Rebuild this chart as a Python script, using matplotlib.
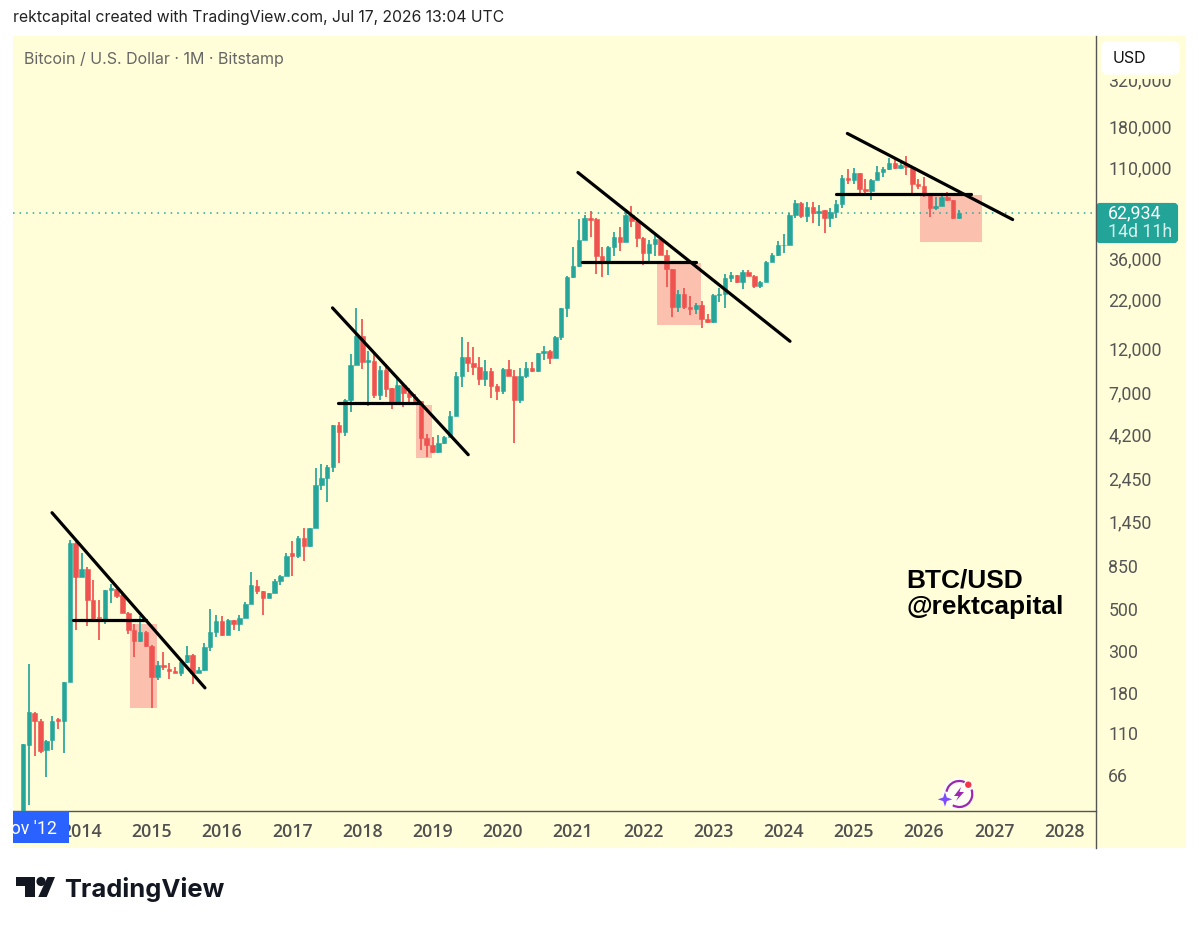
import numpy as np
import matplotlib
matplotlib.use("Agg")
import matplotlib.pyplot as plt
from matplotlib.patches import Rectangle, FancyBboxPatch, Circle, Polygon, Arc
from matplotlib.ticker import FixedLocator, FixedFormatter, NullLocator

# monthly candles, Mar 2013 .. Jul 2026
opens = [33, 95, 140, 128, 90, 101, 130, 127, 205, 1120,
         735, 810, 555, 455, 435, 628, 640, 595, 478, 387, 338, 378,
         320, 217, 253, 241, 235, 230, 262, 285, 230, 237, 315, 378,
         430, 365, 435, 414, 450, 530, 665, 622, 570, 607, 700, 750,
         985, 955, 1185, 1075, 1340, 2280, 2480, 2830, 4730, 4350, 6430, 9870,
         14000, 10200, 10350, 6840, 9200, 7400, 6200, 7700, 7000, 6620, 6300, 4020,
         3680, 3400, 3800, 4100, 5270, 8560, 10800, 10100, 9600, 8300, 9150, 7560,
         7170, 9350, 8540, 6420, 8620, 9450, 9130, 11330, 11650, 10750, 13800, 19700,
         28900, 32800, 45000, 58800, 58000, 37000, 35000, 41500, 47000, 43800, 61000, 57000,
         46300, 38500, 43200, 45500, 37700, 31800, 19900, 23300, 20050, 19400, 20500, 17150,
         16550, 23100, 23300, 28400, 29300, 27100, 30450, 29200, 25900, 27000, 34600, 37700,
         42300, 42600, 61200, 71300, 60700, 67500, 62700, 65000, 58900, 63300, 70000, 96500,
         93500, 102000, 84000, 82500, 94200, 104000, 107000, 115500, 108500, 113500, 109500, 89800,
         87500, 78000, 66500, 68500, 76500, 73400, 58900]
highs = [96, 255, 142, 130, 101, 135, 132, 205, 1165, 1140,
         995, 835, 715, 555, 630, 680, 665, 620, 485, 418, 458, 382,
         322, 265, 297, 258, 245, 265, 320, 287, 245, 330, 500, 466,
         460, 440, 437, 465, 542, 785, 710, 625, 610, 725, 760, 985,
         1145, 1225, 1345, 1350, 2800, 2950, 2910, 4740, 4900, 6450, 11290, 19700,
         17200, 11700, 11400, 9700, 9900, 7450, 8400, 7800, 7450, 6900, 6350, 4250,
         4070, 4197, 4150, 5590, 9000, 13900, 13000, 12200, 10800, 10400, 9500, 7800,
         9500, 10500, 9200, 9500, 10200, 10200, 11400, 12400, 11800, 14000, 19700, 29000,
         41400, 58000, 61500, 64400, 58800, 41400, 42000, 49700, 53000, 65600, 68700, 59000,
         47000, 45000, 48000, 46000, 39800, 31800, 24600, 25000, 22700, 21000, 21400, 18300,
         23400, 25200, 30000, 30600, 29500, 31500, 31500, 29500, 27300, 34800, 38400, 44700,
         48700, 63000, 73800, 72000, 72000, 71800, 69500, 65500, 66500, 74000, 99800, 107500,
         109000, 102500, 94500, 94700, 112000, 110000, 123000, 124000, 117000, 126000, 110500, 94500,
         97500, 78500, 76000, 78700, 81500, 74000, 65500]
lows = [33, 46, 83, 86, 64, 90, 116, 86, 205, 385,
        735, 405, 435, 343, 418, 540, 570, 475, 370, 278, 335, 315,
        150, 210, 237, 213, 228, 222, 260, 200, 228, 235, 300, 355,
        358, 365, 385, 380, 450, 530, 600, 466, 570, 605, 672, 745,
        750, 930, 900, 1070, 1340, 2130, 1835, 2670, 2965, 4130, 5540, 10610,
        9300, 5920, 6570, 6430, 6620, 5750, 6200, 5880, 6050, 6100, 3500, 3190,
        3350, 3350, 3750, 4100, 5270, 7480, 9000, 8730, 7730, 7570, 6560, 6430,
        6900, 8540, 3800, 6200, 8380, 9000, 9000, 10500, 9900, 10750, 13400, 17700,
        28500, 32500, 45000, 47000, 30000, 28900, 29300, 37200, 39600, 43800, 53200, 41500,
        33200, 34400, 37200, 37500, 25400, 17600, 18700, 19500, 18170, 18200, 15500, 16400,
        16400, 21300, 19700, 27000, 26800, 24800, 29000, 25200, 25200, 26900, 34400, 37000,
        38500, 42500, 59000, 59000, 56500, 55500, 53500, 49400, 52800, 58800, 67000, 88900,
        89000, 78000, 76800, 74000, 94000, 98000, 106500, 107000, 108000, 100000, 80500, 84000,
        76000, 59500, 65000, 68000, 73000, 58500, 58500]
closes = [96, 143, 127, 88, 100, 128, 128, 205, 1120, 735,
          810, 555, 447, 447, 628, 645, 585, 478, 387, 338, 378, 320,
          217, 253, 245, 235, 230, 262, 286, 230, 237, 315, 378, 430,
          365, 437, 414, 450, 530, 672, 620, 570, 607, 700, 750, 960,
          955, 1190, 1075, 1350, 2280, 2480, 2830, 4730, 4350, 6430, 9870, 14000,
          10200, 10400, 6840, 9200, 7330, 6200, 7700, 7000, 6620, 6300, 4020, 3680,
          3400, 3800, 4100, 5270, 8560, 10800, 10100, 9600, 8300, 9150, 7560, 7170,
          9350, 8540, 6420, 8620, 9450, 9130, 11330, 11650, 10750, 13800, 19600, 28900,
          32800, 45000, 58800, 57700, 37000, 35000, 41500, 47000, 43800, 61000, 56900, 46300,
          38500, 43200, 45500, 37700, 31800, 19900, 23300, 20000, 19400, 20500, 17150, 16550,
          23100, 23300, 28400, 29300, 27100, 30450, 29200, 25900, 27000, 34600, 37700, 42300,
          42600, 61200, 71300, 60700, 67500, 62700, 64600, 58900, 63300, 70000, 96500, 93500,
          102000, 84000, 82500, 94200, 104000, 107000, 115500, 108500, 113000, 109500, 89800, 87500,
          78000, 66500, 68500, 76500, 73400, 58900, 62934]

price_ticks = [66, 110, 180, 300, 500, 850, 1450, 2450, 4200, 7000, 12000,
               22000, 36000, 110000, 180000, 320000]
price_labels = ["66", "110", "180", "300", "500", "850", "1,450", "2,450", "4,200",
                "7,000", "12,000", "22,000", "36,000", "110,000", "180,000", "320,000"]
year_labels = [str(y) for y in range(2014, 2029)]
year_index = list(range(10, 179, 12))   # candle index of each January

last_price = 62934

# drawings: (index, price) pairs
trend_lines = [((4.96, 1619), (31.1, 191)), ((52.9, 19720), (76.1, 3287)),
               ((94.85, 102900), (131.1, 13120)), ((140.9, 165700), (169.15, 57970))]
support_lines = [(8.5, 21.0, 438), (53.9, 67.85, 6180), (95.5, 115.1, 34400), (138.9, 162.1, 79630)]
zones = [(18.3, 22.85, 150, 417), (67.2, 69.85, 3143, 6054),
         (108.3, 115.8, 16080, 34200), (153.25, 163.85, 44140, 77730)]

GREEN = "#26a69a"
RED = "#ef5350"
PANEL = "#fffed9"
W, H = 1199, 927

fig = plt.figure(figsize=(W / 100, H / 100), dpi=100, facecolor="white")
fig.patches.append(Rectangle((13 / W, (H - 848) / H), 1173 / W, 812 / H, zorder=-1,
                             transform=fig.transFigure, facecolor=PANEL, edgecolor="none"))
ax = fig.add_axes([13 / W, (H - 811) / H, 1083 / W, 775 / H])
ax.patch.set_alpha(0)
ax.set_yscale("log")
ax.set_xlim(-1.71, 183.4)
ax.set_ylim(42.5, 544400)

x = np.arange(len(opens))
o, h, l, c = map(np.array, (opens, highs, lows, closes))
colors = [GREEN if cc >= oo else RED for oo, cc in zip(o, c)]

for x0, x1, p0, p1 in zones:
    ax.add_patch(Rectangle((x0, p0), x1 - x0, p1 - p0, facecolor="#fcc0ae", edgecolor="none", zorder=1))
ax.axhline(last_price, color=GREEN, lw=1.1, ls=(0, (1, 3.3)), zorder=1.5)
ax.vlines(x, l, h, colors=colors, lw=1.25, zorder=2)
ax.bar(x, np.abs(c - o), bottom=np.minimum(o, c), width=0.76, color=colors,
       edgecolor=colors, linewidth=0.4, zorder=3)
for (x0, p0), (x1, p1) in trend_lines:
    ax.plot([x0, x1], [p0, p1], color="black", lw=2.3, solid_capstyle="round", zorder=4)
for x0, x1, p in support_lines:
    ax.plot([x0, x1], [p, p], color="black", lw=2.3, solid_capstyle="round", zorder=4)

for s in ("left", "top", "right"):
    ax.spines[s].set_visible(False)
ax.spines["bottom"].set_color("#555555")
ax.spines["bottom"].set_linewidth(1)
ax.yaxis.set_major_locator(FixedLocator(price_ticks))
ax.yaxis.set_major_formatter(FixedFormatter(price_labels))
ax.yaxis.set_minor_locator(NullLocator())
ax.xaxis.set_major_locator(FixedLocator(year_index))
ax.xaxis.set_major_formatter(FixedFormatter(year_labels))
ax.tick_params(axis="y", left=False, right=False, labelleft=False, labelright=True,
               length=0, pad=8.8, labelsize=12.8, labelcolor="#555555")
ax.tick_params(axis="x", length=0, pad=8.6, labelsize=12.8, labelcolor="#505050")
for t in ax.get_yticklabels():
    t.set_fontfamily("Roboto")
for t in ax.get_xticklabels():
    t.set_fontfamily("Open Sans")
    t.set_fontweight("semibold")

# overlay in pixel coordinates for the chrome of the picture
ov = fig.add_axes([0, 0, 1, 1])
ov.set_xlim(0, W)
ov.set_ylim(H, 0)
ov.axis("off")
ov.patch.set_alpha(0)

ov.plot([1096, 1096], [36, 848], color="#555555", lw=1)
ov.add_patch(Rectangle((1097, 36), 89, 43, facecolor=PANEL, edgecolor="none"))
ov.add_patch(FancyBboxPatch((1104, 44), 73, 28, boxstyle="round,pad=0,rounding_size=4",
                            facecolor="white", edgecolor="white", lw=4))
ov.text(1113, 58, "USD", fontsize=11.5, family="Inter", color="#111111", va="center")

ov.add_patch(FancyBboxPatch((1098, 205), 78, 36, boxstyle="round,pad=0,rounding_size=2",
                            facecolor="#22a598", edgecolor="#22a598", lw=3))
ov.text(1108, 213, "62,934", fontsize=12.8, family="Roboto", color="white", va="center")
ov.text(1108, 232, "14d 11h", fontsize=12.8, family="Roboto", color="#d5f0ec", va="center")

ov.add_patch(Rectangle((13, 811), 56, 32, facecolor="#2962ff", edgecolor="none"))
ov.text(57, 829, "Nov '12", fontsize=12.8, family="Roboto", color="white", ha="right", va="center")
ov.add_patch(Rectangle((0, 800), 13, 60, facecolor="white", edgecolor="none"))

ov.text(13, 17, "rektcapital created with TradingView.com, Jul 17, 2026 13:04 UTC",
        fontsize=11.35, family="Inter", color="#222222", va="center")
ov.text(24, 59, "Bitcoin / U.S. Dollar · 1M · Bitstamp", fontsize=11.5, family="Inter",
        color="#666666", va="center")
ov.text(906, 580, "BTC/USD", fontsize=18.9, family="Liberation Sans", weight="bold", color="black", va="center")
ov.text(906, 607, "@rektcapital", fontsize=18.9, family="Liberation Sans", weight="bold", color="black", va="center")

# TradingView mark and wordmark
ov.add_patch(Polygon([(16, 877), (35, 877), (35, 897), (24.5, 897), (24.5, 885.5), (16, 885.5)],
                     facecolor="#131722", edgecolor="none"))
ov.add_patch(Circle((41, 881.5), 4.6, facecolor="#131722", edgecolor="none"))
ov.add_patch(Polygon([(47.5, 877), (55, 877), (46.7, 897), (38.3, 897)],
                     facecolor="#131722", edgecolor="none"))
ov.text(64, 889, "TradingView", fontsize=18.4, family="Inter", weight="bold", color="#131722", va="center")

# assistant icon
ov.add_patch(Circle((958, 794), 16, facecolor="white", edgecolor="none", alpha=0.75))
ov.add_patch(Arc((959.3, 794), 26, 26, theta1=-20, theta2=120, color="#9c27b0", lw=1.6))
ov.add_patch(Arc((959.3, 794), 26, 26, theta1=190, theta2=310, color="#9c27b0", lw=1.6))
ov.add_patch(Polygon([(961, 787), (954, 796), (958.5, 796), (956, 801), (964, 792), (959.5, 792)],
                     facecolor="#9c27b0", edgecolor="none"))
ov.add_patch(Polygon([(945, 792), (946.8, 797.5), (952.3, 799.3), (946.8, 801.1), (945, 806.6),
                      (943.2, 801.1), (937.7, 799.3), (943.2, 797.5)],
                     facecolor="#7c4dff", edgecolor="none"))
ov.add_patch(Circle((968.3, 784.7), 4.5, facecolor="white", edgecolor="none"))
ov.add_patch(Circle((968.3, 784.7), 3.2, facecolor="#f23645", edgecolor="none"))

fig.savefig("out.png", dpi=100)
